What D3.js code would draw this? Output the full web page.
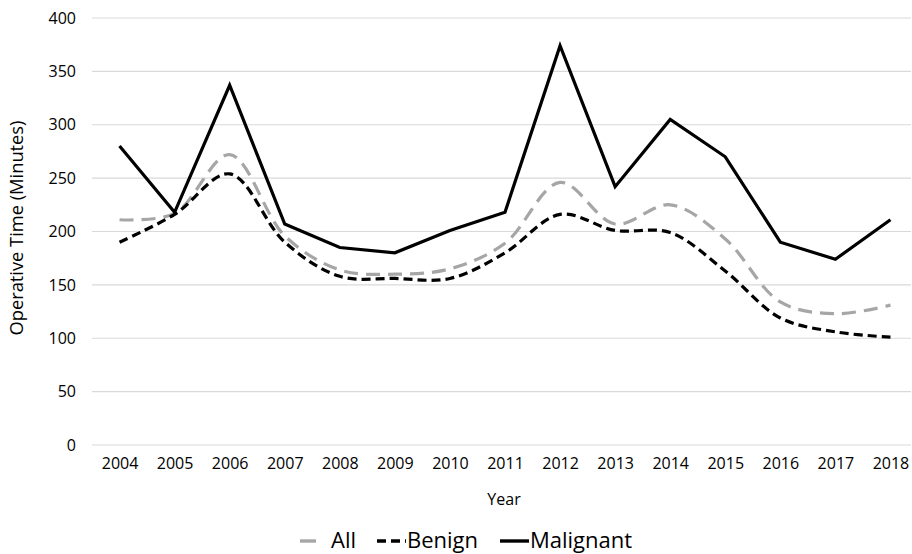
<!DOCTYPE html>
<html>
<head>
<meta charset="utf-8">
<script src="https://cdn.jsdelivr.net/npm/d3@7"></script>
<style>
  body { margin: 0; background: #fff; }
  text { font-family: "Open Sans", sans-serif; fill: #000; }
</style>
</head>
<body>
<div id="chart"></div>
<script>
// data
const years = [2004, 2005, 2006, 2007, 2008, 2009, 2010, 2011, 2012, 2013, 2014, 2015, 2016, 2017, 2018];
const allValues = [211, 217, 272, 196, 164, 160, 165, 189, 246, 207, 225, 193, 134, 123, 131];
const benignValues = [190, 216, 254, 190, 158, 156, 156, 180, 216, 201, 199, 163, 119, 106, 101];
const malignantValues = [280, 218, 337, 207, 185, 180, 201, 218, 374, 242, 305, 270, 190, 174, 211];
const yTicks = [0, 50, 100, 150, 200, 250, 300, 350, 400];

const width = 912;
const height = 554;
const marginTop = 18;
const marginLeft = 92;
const plotRight = 918;
const plotBottom = 445;

const svg = d3.select("#chart").append("svg")
    .attr("width", width)
    .attr("height", height);

const x = d3.scalePoint(years, [marginLeft, plotRight]).padding(0.5);
const y = d3.scaleLinear([0, 400], [plotBottom, marginTop]);

// gridlines
svg.append("g")
  .selectAll("line")
  .data(yTicks)
  .join("line")
    .attr("x1", marginLeft)
    .attr("x2", 911)
    .attr("y1", d => y(d))
    .attr("y2", d => y(d))
    .attr("stroke", "#d9d9d9")
    .attr("stroke-width", 1.2);

// y axis labels
const yAxis = svg.append("g")
    .attr("transform", `translate(${marginLeft},0)`)
    .call(d3.axisLeft(y).tickValues(yTicks).tickSize(0).tickPadding(16));
yAxis.select(".domain").remove();
yAxis.selectAll("text").style("font-size", "16px").style("font-family", "Open Sans, sans-serif");

// x axis labels
const xAxis = svg.append("g")
    .attr("transform", `translate(0,${plotBottom})`)
    .call(d3.axisBottom(x).tickSize(0).tickPadding(13).tickFormat(d3.format("d")));
xAxis.select(".domain").remove();
xAxis.selectAll("text").style("font-size", "16px").style("font-family", "Open Sans, sans-serif");

// axis titles
svg.append("text")
    .attr("transform", `translate(23,228) rotate(-90)`)
    .attr("text-anchor", "middle")
    .style("font-size", "18.3px")
    .text("Operative Time (Minutes)");

svg.append("text")
    .attr("x", 504)
    .attr("y", 505)
    .attr("text-anchor", "middle")
    .style("font-size", "16px")
    .text("Year");

// series
const series = [
  {name: "All", values: allValues, color: "#a6a6a6", dash: "14,8", curve: d3.curveCatmullRom},
  {name: "Benign", values: benignValues, color: "#000", dash: "9,5", curve: d3.curveCatmullRom},
  {name: "Malignant", values: malignantValues, color: "#000", dash: null, curve: d3.curveLinear}
];

series.forEach(s => {
  const line = d3.line()
      .x((d, i) => x(years[i]))
      .y(d => y(d))
      .curve(s.curve);
  svg.append("path")
      .datum(s.values)
      .attr("fill", "none")
      .attr("stroke", s.color)
      .attr("stroke-width", 3.2)
      .attr("stroke-dasharray", s.dash)
      .attr("d", line);
});

// legend
const legendItems = [
  {s: series[0], x1: 300, x2: 316, tx: 331},
  {s: series[1], x1: 377, x2: 406, tx: 407},
  {s: series[2], x1: 500, x2: 529, tx: 530}
];
const legend = svg.append("g").attr("id", "legend");
legendItems.forEach(li => {
  legend.append("line")
      .attr("x1", li.x1)
      .attr("x2", li.x2)
      .attr("y1", 541)
      .attr("y2", 541)
      .attr("stroke", li.s.color)
      .attr("stroke-width", 3.4)
      .attr("stroke-dasharray", li.s.name === "Benign" ? "9,5" : null);
  legend.append("text")
      .attr("x", li.tx)
      .attr("y", 548)
      .style("font-size", "22px")
      .text(li.s.name);
});
</script>
</body>
</html>
